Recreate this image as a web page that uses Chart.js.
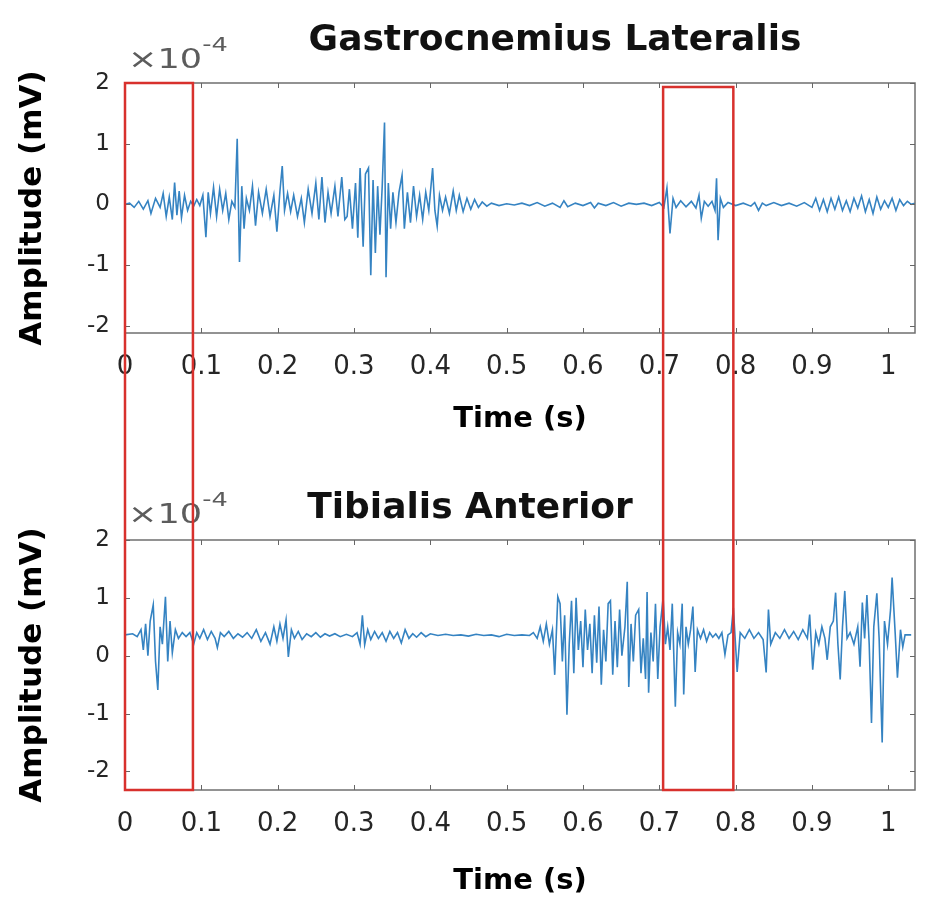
<!DOCTYPE html>
<html>
<head>
<meta charset="utf-8">
<title>EMG - Gastrocnemius Lateralis / Tibialis Anterior</title>
<script src="https://cdn.jsdelivr.net/npm/chart.js@4.4.1/dist/chart.umd.min.js"></script>
<style>
  html, body { margin: 0; padding: 0; background: #fff; }
  #wrap { position: relative; width: 925px; height: 900px; }
  .panel { position: absolute; left: 0; width: 925px; height: 450px; }
  #gastroPanel { top: 0; }
  #tibialisPanel { top: 450px; }
</style>
</head>
<body>
<div id="wrap">
  <div class="panel" id="gastroPanel"><canvas id="gastroChart"></canvas></div>
  <div class="panel" id="tibialisPanel"><canvas id="tibialisChart"></canvas></div>
</div>
<script>
// amplitudes are in units of 1e-4 mV (the axis shows a x10^-4 multiplier)
const gastroTime = [
  0.000, 0.006, 0.012, 0.018, 0.024, 0.030, 0.034, 0.040, 0.046, 0.050, 0.054, 0.058, 0.062, 0.065, 0.068, 0.071, 0.074, 0.078, 0.082, 0.086, 0.090, 0.094, 0.098,
  0.102, 0.106, 0.109, 0.112, 0.116, 0.120, 0.124, 0.128, 0.132, 0.136, 0.140, 0.144,
  0.147, 0.150, 0.153, 0.156, 0.159, 0.163,
  0.167, 0.171, 0.175, 0.180, 0.185, 0.190, 0.195, 0.199, 0.203, 0.206, 0.209, 0.213, 0.217,
  0.221, 0.226, 0.231, 0.235, 0.240, 0.245, 0.250, 0.254, 0.258, 0.262, 0.266, 0.270, 0.275, 0.279, 0.284, 0.288,
  0.291, 0.294, 0.298, 0.302, 0.305, 0.308, 0.312, 0.315, 0.319, 0.322, 0.325, 0.328, 0.331, 0.334, 0.337, 0.340, 0.342, 0.345, 0.348, 0.351,
  0.355, 0.359, 0.363, 0.366, 0.370, 0.374, 0.378, 0.382, 0.386, 0.390, 0.394, 0.398, 0.403, 0.406, 0.409, 0.412, 0.416, 0.420,
  0.425, 0.430, 0.434, 0.438, 0.443, 0.448, 0.453, 0.458, 0.463, 0.468, 0.474, 0.480,
  0.49, 0.50, 0.51, 0.52, 0.53, 0.54, 0.55, 0.56, 0.57, 0.575, 0.58, 0.59, 0.60, 0.61, 0.615, 0.62, 0.63, 0.64, 0.65, 0.66, 0.67, 0.68, 0.69,
  0.700, 0.706, 0.710, 0.714, 0.718, 0.722, 0.728, 0.735, 0.742, 0.748, 0.752, 0.755, 0.759, 0.764, 0.769, 0.773, 0.775, 0.777, 0.780, 0.784, 0.790,
  0.80, 0.81, 0.82, 0.825, 0.83, 0.835, 0.84, 0.85, 0.86, 0.87, 0.88, 0.89,
  0.900, 0.905, 0.910, 0.915, 0.920, 0.925, 0.930, 0.935, 0.940, 0.945, 0.950, 0.955, 0.960, 0.965, 0.970, 0.975, 0.980, 0.985, 0.990, 0.995, 1.000, 1.005, 1.010, 1.015, 1.020, 1.025, 1.030, 1.035
];
const gastroAmp = [
  0.00, 0.02, -0.05, 0.05, -0.08, 0.06, -0.15, 0.10, -0.05, 0.18, -0.20, 0.12, -0.25, 0.36, -0.18, 0.22, -0.22, 0.15, -0.10, 0.05, -0.03, 0.08, -0.02,
  0.15, -0.54, 0.20, -0.15, 0.28, -0.20, 0.25, -0.10, 0.18, -0.25, 0.05, -0.05,
  1.08, -0.95, 0.30, -0.40, 0.10, -0.10,
  0.30, -0.35, 0.20, -0.15, 0.25, -0.20, 0.15, -0.45, 0.22, 0.63, -0.10, 0.18, -0.12,
  0.15, -0.20, 0.10, -0.30, 0.25, -0.15, 0.35, -0.25, 0.45, -0.30, 0.20, -0.15, 0.30, -0.20, 0.45, -0.25,
  -0.20, 0.25, -0.40, 0.35, -0.55, 0.60, -0.70, 0.50, 0.60, -1.17, 0.40, -0.80, 0.30, -0.50, 0.30, 1.35, -1.20, 0.35, -0.40, 0.20,
  -0.30, 0.20, 0.48, -0.40, 0.20, -0.30, 0.30, -0.20, 0.15, -0.25, 0.20, -0.10, 0.60, -0.10, -0.36, 0.15, -0.10, 0.12,
  -0.15, 0.22, -0.10, 0.15, -0.12, 0.10, -0.08, 0.08, -0.05, 0.04, -0.03, 0.02,
  -0.02, 0.01, -0.01, 0.02, -0.02, 0.03, -0.03, 0.02, -0.05, 0.06, -0.04, 0.02, -0.02, 0.03, -0.06, 0.02, -0.02, 0.03, -0.03, 0.02, 0.00, 0.02, -0.02,
  0.03, -0.05, 0.27, -0.48, 0.10, -0.05, 0.06, -0.04, 0.05, -0.06, 0.15, -0.23, 0.05, -0.03, 0.05, -0.10, 0.43, -0.59, 0.10, -0.05, 0.03,
  -0.02, 0.02, -0.03, 0.03, -0.10, 0.02, -0.02, 0.03, -0.02, 0.02, -0.03, 0.03,
  -0.05, 0.10, -0.10, 0.08, -0.12, 0.10, -0.08, 0.12, -0.10, 0.06, -0.12, 0.10, -0.06, 0.14, -0.12, 0.08, -0.15, 0.12, -0.08, 0.06, -0.05, 0.10, -0.10, 0.08, -0.02, 0.05, 0.00, 0.02
];

const tibialisTime = [
  0.000, 0.010, 0.016, 0.021, 0.024, 0.027, 0.030, 0.033, 0.037, 0.040, 0.043, 0.046, 0.049, 0.053, 0.056, 0.059, 0.062, 0.066, 0.070, 0.075, 0.080, 0.085, 0.090, 0.094,
  0.098, 0.103, 0.108, 0.113, 0.118, 0.121, 0.125, 0.130, 0.136, 0.142, 0.148, 0.154, 0.160, 0.166, 0.172, 0.178, 0.184, 0.190, 0.195, 0.199, 0.203, 0.207, 0.211, 0.214, 0.218, 0.222, 0.227, 0.232, 0.238, 0.244, 0.250, 0.256, 0.262, 0.268, 0.275,
  0.282, 0.290, 0.298, 0.304, 0.308, 0.311, 0.314, 0.318, 0.322, 0.327, 0.332, 0.337, 0.342, 0.347, 0.352, 0.357, 0.362, 0.367, 0.372, 0.377, 0.382, 0.388, 0.394, 0.400,
  0.41, 0.42, 0.43, 0.44, 0.45, 0.46, 0.47, 0.48, 0.49, 0.50, 0.51, 0.52, 0.53,
  0.535, 0.540, 0.544, 0.548, 0.552, 0.556, 0.560,
  0.563, 0.567, 0.570, 0.573, 0.576, 0.579, 0.582, 0.585, 0.588, 0.591, 0.594, 0.597, 0.600, 0.603, 0.606, 0.609, 0.612, 0.615, 0.618, 0.621, 0.624, 0.627, 0.630, 0.633, 0.636, 0.639, 0.642, 0.645, 0.648, 0.651, 0.655, 0.658, 0.660, 0.663, 0.666, 0.669, 0.673, 0.676, 0.679, 0.682, 0.684, 0.686, 0.689, 0.692,
  0.695, 0.698, 0.701, 0.705, 0.708, 0.711, 0.714, 0.717, 0.721, 0.724, 0.727, 0.730, 0.732, 0.735, 0.738, 0.741, 0.744, 0.747, 0.750, 0.754, 0.758, 0.762,
  0.766, 0.770, 0.774, 0.778, 0.782, 0.786, 0.790, 0.794, 0.797, 0.802, 0.806, 0.812, 0.818, 0.824, 0.830, 0.836, 0.840, 0.843, 0.846, 0.852, 0.858, 0.864, 0.870, 0.876, 0.882, 0.888,
  0.894, 0.897, 0.901, 0.905, 0.909, 0.913, 0.917, 0.920, 0.924, 0.928, 0.931, 0.934, 0.937, 0.940, 0.943, 0.946, 0.950, 0.955, 0.960, 0.963, 0.966, 0.969, 0.972, 0.975, 0.978, 0.981, 0.985, 0.988, 0.992, 0.995, 0.999, 1.003, 1.005, 1.009, 1.012, 1.016, 1.019, 1.022, 1.026, 1.030
];
const tibialisAmp = [
  0.36, 0.38, 0.33, 0.45, 0.10, 0.55, 0.00, 0.60, 0.88, -0.10, -0.59, 0.50, 0.20, 1.02, -0.10, 0.60, 0.05, 0.45, 0.30, 0.40, 0.33, 0.40, 0.20, 0.40,
  0.30, 0.45, 0.28, 0.42, 0.30, 0.14, 0.40, 0.33, 0.42, 0.30, 0.38, 0.32, 0.40, 0.30, 0.45, 0.25, 0.40, 0.20, 0.50, 0.25, 0.55, 0.30, 0.62, -0.02, 0.45, 0.30, 0.42, 0.28, 0.38, 0.33, 0.40, 0.32, 0.38, 0.34, 0.38,
  0.33, 0.37, 0.33, 0.40, 0.20, 0.70, 0.19, 0.45, 0.28, 0.42, 0.30, 0.40, 0.25, 0.42, 0.30, 0.40, 0.22, 0.45, 0.30, 0.38, 0.32, 0.40, 0.33, 0.38,
  0.35, 0.37, 0.35, 0.36, 0.34, 0.37, 0.35, 0.36, 0.33, 0.37, 0.35, 0.36, 0.35,
  0.40, 0.30, 0.50, 0.25, 0.55, 0.20, 0.45,
  -0.33, 1.02, 0.90, -0.10, 0.70, -1.02, 0.20, 0.95, -0.30, 1.00, 0.10, 0.60, -0.20, 0.80, 0.10, 0.55, -0.30, 0.70, -0.12, 0.85, -0.50, 0.45, -0.10, 0.90, 0.95, -0.33, 0.60, -0.20, 0.80, 0.00, 0.50, 1.28, -0.54, 0.55, -0.10, 0.70, 0.80, -0.30, 0.30, -0.40, 1.10, -0.64, 0.40, -0.10,
  0.90, -0.40, 0.50, 1.00, 0.20, 0.50, 0.10, 0.90, -0.88, 0.40, 0.20, 0.90, -0.67, 0.50, 0.20, 0.45, 0.85, -0.28, 0.45, 0.30, 0.45, 0.25,
  0.40, 0.32, 0.38, 0.30, 0.40, 0.02, 0.36, 0.40, 0.83, -0.28, 0.40, 0.30, 0.45, 0.30, 0.40, 0.28, -0.29, 0.80, 0.20, 0.40, 0.30, 0.45, 0.30, 0.42, 0.28, 0.45,
  0.30, 0.71, -0.24, 0.40, 0.20, 0.50, 0.30, -0.07, 0.50, 0.60, 1.09, 0.20, -0.41, 0.50, 1.12, 0.30, 0.40, 0.20, 0.50, -0.19, 0.92, 0.30, 1.05, 0.20, -1.16, 0.50, 1.08, 0.30, -1.50, 0.60, 0.20, 0.80, 1.35, 0.40, -0.38, 0.45, 0.15, 0.36, 0.36, 0.36
];

const xTickValues = [0, 0.1, 0.2, 0.3, 0.4, 0.5, 0.6, 0.7, 0.8, 0.9, 1];
const yTickValues = [-2, -1, 0, 1, 2];
// time windows boxed in red across both panels
const highlightSpans = [[0, 0.089], [0.705, 0.797]];
const highlightTopOffset = [0, 4];

const FONT = 'DejaVu Sans';
const LINE_COLOR = '#3583c2';
const BOX_COLOR = '#d8312d';

// MATLAB-ish frame, inward ticks, title, x10^-4 multiplier and the red windows
const matlabFrame = {
  id: 'matlabFrame',
  afterDatasetsDraw(chart, args, opts) {
    const { ctx, chartArea: a, scales: { x, y } } = chart;
    ctx.save();
    ctx.strokeStyle = '#6f6f6f';
    ctx.lineWidth = 1.5;
    ctx.strokeRect(a.left, a.top, a.right - a.left, a.bottom - a.top);
    ctx.strokeStyle = '#666';
    ctx.lineWidth = 1;
    ctx.beginPath();
    x.ticks.forEach(t => {
      const px = Math.round(x.getPixelForValue(t.value)) + 0.5;
      ctx.moveTo(px, a.bottom); ctx.lineTo(px, a.bottom - 5);
      ctx.moveTo(px, a.top); ctx.lineTo(px, a.top + 5);
    });
    y.ticks.forEach(t => {
      const py = Math.round(y.getPixelForValue(t.value)) + 0.5;
      ctx.moveTo(a.left, py); ctx.lineTo(a.left + 5, py);
      ctx.moveTo(a.right, py); ctx.lineTo(a.right - 5, py);
    });
    ctx.stroke();
    ctx.restore();
  },
  afterDraw(chart, args, opts) {
    const { ctx, chartArea: a, scales: { x } } = chart;
    ctx.save();
    // panel title
    ctx.fillStyle = '#111';
    ctx.font = `bold 36px "${FONT}"`;
    ctx.textAlign = 'center';
    ctx.textBaseline = 'alphabetic';
    ctx.fillText(opts.title, opts.titleX, opts.titleY);

    // x10^-4 exponent label, stretched like the source figure
    ctx.fillStyle = '#5c5c5c';
    ctx.textAlign = 'left';
    ctx.save();
    ctx.translate(a.left + 3, opts.expY);
    ctx.scale(1.35, 1);
    ctx.font = `26px "${FONT}"`;
    ctx.fillText('\u00d710', 0, 0);
    ctx.font = `19px "${FONT}"`;
    ctx.fillText('-4', 55, -17);
    ctx.restore();

    // red analysis windows (continue into the other panel)
    ctx.strokeStyle = BOX_COLOR;
    ctx.lineWidth = 2.5;
    highlightSpans.forEach((span, i) => {
      const x0 = x.getPixelForValue(span[0]);
      const x1 = x.getPixelForValue(span[1]);
      ctx.beginPath();
      if (opts.part === 'top') {
        const y0 = a.top + highlightTopOffset[i];
        ctx.moveTo(x0, chart.height);
        ctx.lineTo(x0, y0);
        ctx.lineTo(x1, y0);
        ctx.lineTo(x1, chart.height);
      } else {
        ctx.moveTo(x0, 0);
        ctx.lineTo(x0, a.bottom);
        ctx.lineTo(x1, a.bottom);
        ctx.lineTo(x1, 0);
      }
      ctx.stroke();
    });
    ctx.restore();
  }
};

function buildChart(canvasId, time, amp, cfg) {
  const points = time.map((t, i) => ({ x: t, y: amp[i] }));
  return new Chart(document.getElementById(canvasId), {
    type: 'line',
    data: {
      datasets: [{
        data: points,
        borderColor: LINE_COLOR,
        borderWidth: 1.6,
        pointRadius: 0,
        tension: 0,
        fill: false
      }]
    },
    plugins: [matlabFrame],
    options: {
      responsive: true,
      maintainAspectRatio: false,
      animation: false,
      layout: { padding: { top: cfg.padTop, right: 10, left: 0, bottom: 0 } },
      plugins: {
        legend: { display: false },
        tooltip: { enabled: false },
        matlabFrame: cfg.frame
      },
      scales: {
        x: {
          type: 'linear',
          min: 0,
          max: 1.035,
          afterBuildTicks: s => { s.ticks = xTickValues.map(v => ({ value: v })); },
          afterFit: s => { s.height = cfg.xHeight; },
          grid: { display: false, drawTicks: false },
          border: { display: false },
          ticks: {
            padding: 19,
            color: '#262626',
            maxRotation: 0,
            autoSkip: false,
            font: { family: FONT, size: 26 },
            callback: v => String(Number(v.toFixed(1)))
          },
          title: {
            display: true,
            text: 'Time (s)',
            color: '#000',
            font: { family: FONT, size: 29, weight: 'bold' },
            padding: { top: 0, bottom: cfg.xTitlePad }
          }
        },
        y: {
          min: cfg.yMin,
          max: 2,
          afterBuildTicks: s => { s.ticks = yTickValues.map(v => ({ value: v })); },
          afterFit: s => { s.width = 125; },
          grid: { display: false, drawTicks: false },
          border: { display: false },
          ticks: {
            padding: 15,
            color: '#262626',
            font: { family: FONT, size: 23 },
            callback: v => String(v)
          },
          title: {
            display: true,
            text: 'Amplitude (mV)',
            color: '#000',
            font: { family: FONT, size: 31, weight: 'bold' },
            padding: { top: 14, bottom: 0 }
          }
        }
      }
    }
  });
}

function initCharts() {
  window.gastroChart = buildChart('gastroChart', gastroTime, gastroAmp, {
    padTop: 83, xHeight: 117, xTitlePad: 13, yMin: -2.12,
    frame: { title: 'Gastrocnemius Lateralis', titleX: 555, titleY: 50, expY: 68, part: 'top' }
  });
  window.tibialisChart = buildChart('tibialisChart', tibialisTime, tibialisAmp, {
    padTop: 90, xHeight: 110, xTitlePad: 1, yMin: -2.32,
    frame: { title: 'Tibialis Anterior', titleX: 470, titleY: 68, expY: 73, part: 'bottom' }
  });
}

if (document.readyState === 'loading') {
  document.addEventListener('DOMContentLoaded', initCharts);
} else {
  initCharts();
}
</script>
</body>
</html>
